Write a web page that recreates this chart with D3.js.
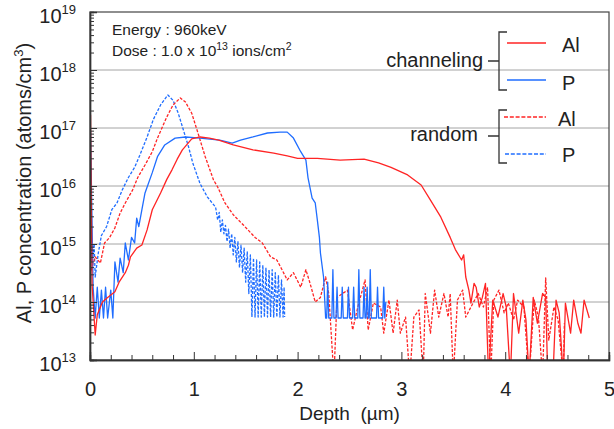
<!DOCTYPE html>
<html>
<head>
<meta charset="utf-8">
<script src="https://cdn.jsdelivr.net/npm/d3@7.9.0/dist/d3.min.js"></script>
<style>
  body { margin: 0; background: #fff; }
  svg { display: block; font-family: "Liberation Sans", Arial, sans-serif; }
</style>
</head>
<body>
<svg id="chart" width="614" height="429"></svg>
<script>
// Depth (um) vs concentration (atoms/cm3)
// values below 1e13 are dropouts that fall off the bottom of the axis
const alChanneling = [
  [0.005, 1.7e17], [0.02, 2.0e14], [0.05, 2.7e13], [0.07, 6.0e13], [0.12, 1.0e14],
  [0.17, 1.2e14], [0.24, 1.5e14], [0.28, 2.2e14], [0.34, 3.2e14], [0.37, 4.3e14],
  [0.39, 6.0e14], [0.45, 8.5e14], [0.50, 9.6e14], [0.55, 1.75e15], [0.60, 3.9e15],
  [0.68, 7.6e15], [0.74, 1.3e16], [0.79, 1.9e16], [0.84, 2.9e16], [0.89, 4.2e16],
  [0.98, 6.5e16], [1.06, 7.0e16], [1.15, 6.7e16], [1.24, 6.2e16], [1.38, 5.1e16],
  [1.57, 4.2e16], [1.77, 3.7e16], [1.90, 3.3e16], [2.00, 3.0e16], [2.19, 3.0e16],
  [2.41, 2.8e16], [2.64, 2.9e16], [2.78, 2.5e16], [2.90, 2.1e16], [3.06, 1.55e16],
  [3.19, 1.04e16], [3.28, 5.7e15], [3.38, 2.9e15], [3.47, 1.3e15], [3.52, 8.0e14],
  [3.58, 5.3e14], [3.60, 6.5e14], [3.62, 2.7e14], [3.65, 1.6e14], [3.67, 9.6e13],
  [3.70, 2.1e14], [3.72, 1.8e14], [3.75, 8.2e13], [3.78, 1.2e14], [3.81, 2.1e14],
  [3.84, 5e12], [3.88, 1.08e14], [3.93, 5.5e13], [3.98, 1.4e14], [4.01, 8.2e13],
  [4.05, 5e12], [4.08, 1.4e14], [4.13, 2.9e13], [4.17, 1.08e14], [4.20, 4.9e13],
  [4.23, 5e12], [4.27, 1.2e14], [4.31, 4.3e13], [4.36, 1.4e14], [4.39, 1.2e14],
  [4.41, 5e12], [4.46, 5e12], [4.49, 1.08e14], [4.52, 6.5e13], [4.56, 5e12],
  [4.58, 9.6e13], [4.63, 2.9e13], [4.66, 1.08e14], [4.70, 4.3e13], [4.73, 2.9e13],
  [4.76, 1.08e14], [4.81, 5.3e13]
];

const pChanneling = [
  [0.005, 9.0e16], [0.03, 1.8e14], [0.05, 5.3e13], [0.07, 1.8e14], [0.09, 5.3e13],
  [0.11, 1.6e14], [0.13, 5.3e13], [0.15, 1.8e14], [0.17, 5.3e13], [0.20, 1.6e14],
  [0.22, 5.3e13], [0.24, 4.9e14], [0.27, 2.2e14], [0.29, 5.7e14], [0.32, 3.2e14],
  [0.34, 1.04e15], [0.37, 5.3e14], [0.40, 1.3e15], [0.43, 1.04e15], [0.45, 2.8e15],
  [0.47, 2.0e15], [0.50, 3.9e15], [0.53, 7.6e15], [0.60, 1.7e16], [0.65, 3.2e16],
  [0.72, 5.1e16], [0.82, 6.7e16], [0.92, 7.0e16], [1.06, 6.7e16], [1.25, 6.2e16],
  [1.37, 5.5e16], [1.45, 6.2e16], [1.57, 7.0e16], [1.71, 8.2e16], [1.83, 8.5e16],
  [1.90, 8.5e16], [1.96, 6.7e16], [2.03, 3.9e16], [2.08, 2.8e16], [2.10, 1.4e16],
  [2.14, 6.2e15], [2.17, 5.1e15], [2.19, 2.6e15], [2.21, 1.3e15], [2.22, 7.0e14],
  [2.25, 2.7e14], [2.27, 5.3e13], [2.28, 5.3e13], [2.29, 2.2e14], [2.30, 5.3e13],
  [2.33, 5.3e13], [2.34, 3.6e14], [2.35, 5.3e13], [2.37, 5.3e13], [2.38, 1.8e14],
  [2.39, 5.3e13], [2.42, 5.3e13], [2.43, 1.8e14], [2.44, 5.3e13], [2.48, 5.3e13],
  [2.49, 1.8e14], [2.50, 5.3e13], [2.53, 5.3e13], [2.54, 1.8e14], [2.55, 5.3e13],
  [2.58, 5.3e13], [2.59, 3.6e14], [2.60, 5.3e13], [2.63, 5.3e13], [2.64, 1.8e14],
  [2.65, 5.3e13], [2.66, 5.3e13], [2.67, 1.8e14], [2.68, 5.3e13], [2.69, 5.3e13],
  [2.70, 3.6e14], [2.71, 5.3e13], [2.76, 5.3e13], [2.77, 1.8e14], [2.78, 5.3e13],
  [2.82, 5.3e13], [2.83, 1.8e14], [2.84, 5.3e13], [2.85, 1.0e14]
];

const alRandom = [
  [0.01, 3.5e14], [0.05, 6.0e14], [0.10, 4.7e14], [0.14, 1.04e15], [0.19, 1.3e15],
  [0.24, 1.9e15], [0.29, 3.4e15], [0.34, 5.1e15], [0.41, 8.5e15], [0.46, 1.4e16],
  [0.53, 2.3e16], [0.60, 3.9e16], [0.65, 6.7e16], [0.74, 1.55e17], [0.80, 2.5e17],
  [0.87, 3.3e17], [0.92, 2.8e17], [0.98, 1.8e17], [1.04, 8.2e16], [1.11, 3.2e16],
  [1.19, 1.27e16], [1.23, 9.6e15], [1.30, 5.1e15], [1.38, 3.2e15], [1.48, 2.1e15],
  [1.59, 1.3e15], [1.66, 1.04e15], [1.74, 6.0e14], [1.80, 5.3e14], [1.85, 3.6e14],
  [1.90, 2.4e14], [1.96, 3.2e14], [2.03, 1.8e14], [2.08, 3.6e14], [2.12, 2.1e14],
  [2.17, 1.0e14], [2.22, 1.2e14], [2.27, 2.7e14], [2.30, 1.4e14], [2.35, 5e12],
  [2.38, 1.2e14], [2.48, 1.6e14], [2.53, 3.3e13], [2.58, 8.2e13], [2.65, 2.4e14],
  [2.68, 3.3e13], [2.73, 9.6e13], [2.80, 8.2e13], [2.83, 2.9e13], [2.88, 1.08e14],
  [2.92, 2.9e13], [2.96, 1.08e14], [2.99, 2.9e13], [3.04, 5.5e13], [3.08, 5e12],
  [3.12, 5.5e13], [3.17, 7.3e13], [3.21, 5e12], [3.23, 1.4e14], [3.28, 2.9e13],
  [3.32, 1.6e14], [3.36, 5.5e13], [3.41, 1.4e14], [3.45, 5.5e13], [3.47, 1.4e14],
  [3.50, 5e12], [3.54, 1.08e14], [3.59, 1.6e14], [3.62, 5.5e13], [3.67, 8.2e13],
  [3.74, 1.4e14], [3.79, 8.2e13], [3.83, 1.8e14], [3.86, 5e12], [3.89, 1.08e14],
  [3.94, 1.6e14], [3.99, 6.5e13], [4.03, 9.6e13], [4.08, 4.9e13], [4.12, 1.08e14],
  [4.18, 8.2e13], [4.23, 5e12], [4.28, 1.08e14], [4.32, 5.5e13], [4.36, 5e12],
  [4.39, 2.6e14], [4.42, 2.2e13], [4.47, 8.2e13], [4.51, 4.9e13], [4.56, 5e12],
  [4.57, 4.3e13]
];

const pRandom = [
  [0.005, 1.2e15], [0.02, 4.9e14], [0.04, 1.0e15], [0.05, 2.7e14], [0.08, 7.0e14],
  [0.11, 1.4e15], [0.16, 2.0e15], [0.21, 3.9e15], [0.26, 5.1e15], [0.31, 8.5e15],
  [0.37, 1.4e16], [0.43, 2.1e16], [0.48, 3.4e16], [0.55, 7.0e16], [0.61, 1.4e17],
  [0.68, 2.5e17], [0.75, 3.7e17], [0.80, 3.0e17], [0.85, 1.8e17], [0.90, 9.2e16],
  [0.95, 4.7e16], [0.99, 2.5e16], [1.06, 1.1e16], [1.13, 6.5e15], [1.21, 4.3e15],
  [1.23, 2.6e15], [1.245, 3.5e15], [1.26, 1.6e15], [1.275, 2.6e15], [1.29, 1.5e15],
  [1.305, 2.1e15], [1.32, 1.1e15], [1.335, 1.8e15], [1.35, 8.5e14], [1.365, 1.5e15],
  [1.38, 6.5e14], [1.395, 1.3e15], [1.41, 4.9e14], [1.425, 1.1e15], [1.44, 3.9e14],
  [1.455, 9.6e14], [1.47, 3.2e14], [1.485, 8.5e14], [1.50, 2.2e14], [1.515, 7.3e14],
  [1.53, 1.4e14], [1.545, 6.5e14], [1.56, 5.5e13], [1.575, 5.7e14], [1.59, 5.5e13],
  [1.605, 5.3e14], [1.62, 5.5e13], [1.635, 4.9e14], [1.65, 5.5e13], [1.665, 4.3e14],
  [1.68, 5.5e13], [1.695, 3.9e14], [1.71, 5.5e13], [1.725, 3.6e14], [1.74, 5.5e13],
  [1.755, 3.6e14], [1.77, 5.5e13], [1.785, 3.2e14], [1.80, 5.5e13], [1.815, 2.9e14],
  [1.83, 5.5e13], [1.845, 2.4e14], [1.86, 5.5e13], [1.87, 1.8e14], [1.875, 5.5e13]
];

const xTicks = [0, 1, 2, 3, 4, 5];
const yExponents = [13, 14, 15, 16, 17, 18, 19];
const gridExponents = [14, 15, 16, 17, 18];

const RED = "#ff2424";
const BLUE = "#1f6dff";

const svg = d3.select("#chart");
const margin = { top: 12, right: 5, bottom: 69, left: 90 };
const W = 614 - margin.left - margin.right;
const H = 429 - margin.top - margin.bottom;

const x = d3.scaleLinear().domain([0, 5]).range([margin.left, margin.left + W]);
const y = d3.scaleLog().domain([1e13, 1e19]).range([margin.top + H, margin.top]);

// clip region so dropouts stop at the axis
svg.append("clipPath").attr("id", "plot-clip")
  .append("rect")
  .attr("x", margin.left).attr("y", margin.top)
  .attr("width", W).attr("height", H);

// gridlines at each decade
svg.append("g")
  .selectAll("line")
  .data(gridExponents)
  .join("line")
  .attr("x1", margin.left).attr("x2", margin.left + W)
  .attr("y1", (d) => y(Math.pow(10, d))).attr("y2", (d) => y(Math.pow(10, d)))
  .attr("stroke", "#a4a4a4").attr("stroke-width", 1);

// data lines
const line = d3.line().x((d) => x(d[0])).y((d) => y(d[1]));
const series = [
  { data: pRandom, color: BLUE, dash: "3,1.6" },
  { data: alRandom, color: RED, dash: "3,1.6" },
  { data: pChanneling, color: BLUE, dash: null },
  { data: alChanneling, color: RED, dash: null },
];
const linesG = svg.append("g").attr("clip-path", "url(#plot-clip)");
series.forEach((s) => {
  linesG.append("path")
    .datum(s.data)
    .attr("d", line)
    .attr("fill", "none")
    .attr("stroke", s.color)
    .attr("stroke-width", 1.3)
    .attr("stroke-linejoin", "round")
    .attr("stroke-dasharray", s.dash);
});

// frame
svg.append("rect")
  .attr("x", margin.left).attr("y", margin.top)
  .attr("width", W).attr("height", H)
  .attr("fill", "none").attr("stroke", "#444").attr("stroke-width", 1.2);

// y axis: inward major + minor ticks
const minorY = [];
for (let e = 13; e < 19; e++) {
  for (let m = 2; m <= 9; m++) minorY.push(m * Math.pow(10, e));
}
const yAxisG = svg.append("g").attr("transform", `translate(${margin.left},0)`);
yAxisG.call(d3.axisLeft(y).tickValues(yExponents.map((e) => Math.pow(10, e))).tickSize(-7).tickFormat(""));
yAxisG.call((g) => g.append("g").call(d3.axisLeft(y).tickValues(minorY).tickSize(-4).tickFormat("")));
yAxisG.selectAll(".domain").attr("stroke", "#333").attr("stroke-width", 1.4);
yAxisG.selectAll(".tick line").attr("stroke", "#333");

// y tick labels as 10 with superscript
svg.append("g")
  .selectAll("text")
  .data(yExponents)
  .join("text")
  .attr("x", 76)
  .attr("y", (d) => y(Math.pow(10, d)) + 11)
  .attr("text-anchor", "end")
  .attr("font-size", 20)
  .attr("fill", "#222")
  .each(function (d) {
    const t = d3.select(this);
    t.append("tspan").text("10");
    t.append("tspan").attr("font-size", 13).attr("dy", -9).text(d);
  });

// x axis: inward major + minor ticks
const minorX = d3.range(0, 5.001, 0.2).map((v) => +v.toFixed(1)).filter((v) => v % 1 !== 0);
const xAxisG = svg.append("g").attr("transform", `translate(0,${margin.top + H})`);
xAxisG.call(d3.axisBottom(x).tickValues(xTicks).tickSize(-8).tickPadding(22).tickFormat(d3.format("d")));
xAxisG.call((g) => g.append("g").call(d3.axisBottom(x).tickValues(minorX).tickSize(-5).tickFormat("")));
xAxisG.selectAll(".domain").attr("stroke", "#333").attr("stroke-width", 1.4);
xAxisG.selectAll(".tick line").attr("stroke", "#333");
xAxisG.selectAll(".tick text")
  .attr("font-size", 20)
  .attr("font-family", "Liberation Sans, Arial, sans-serif")
  .attr("fill", "#222");

// axis titles
svg.append("text")
  .attr("x", margin.left + W / 2)
  .attr("y", 420)
  .attr("text-anchor", "middle")
  .attr("font-size", 19)
  .attr("fill", "#222")
  .attr("xml:space", "preserve")
  .text("Depth  (\u00b5m)");

const yTitle = svg.append("text")
  .attr("transform", "translate(31,183) rotate(-90)")
  .attr("text-anchor", "middle")
  .attr("font-size", 20)
  .attr("fill", "#222");
yTitle.append("tspan").text("Al, P concentration (atoms/cm");
yTitle.append("tspan").attr("font-size", 13).attr("dy", -8).text("3");
yTitle.append("tspan").attr("dy", 8).text(")");

// annotation
svg.append("text")
  .attr("x", 112).attr("y", 35)
  .attr("font-size", 15.5).attr("fill", "#222")
  .text("Energy : 960keV");
const dose = svg.append("text")
  .attr("x", 112).attr("y", 56)
  .attr("font-size", 15.5).attr("fill", "#222");
dose.append("tspan").text("Dose : 1.0 x 10");
dose.append("tspan").attr("font-size", 10.5).attr("dy", -6).text("13");
dose.append("tspan").attr("dy", 6).text(" ions/cm");
dose.append("tspan").attr("font-size", 10.5).attr("dy", -6).text("2");

// legend
const legendGroups = [
  { label: "channeling", labelX: 483, labelY: 67, top: 32, bottom: 90, mid: 61,
    items: [
      { name: "Al", color: RED, dash: null, y: 43, x1: 507, tx: 562, ty: 52 },
      { name: "P", color: BLUE, dash: null, y: 80, x1: 507, tx: 562, ty: 90 },
    ] },
  { label: "random", labelX: 478, labelY: 141, top: 110, bottom: 163, mid: 136,
    items: [
      { name: "Al", color: RED, dash: "4,1.8", y: 117, x1: 504, tx: 558, ty: 126 },
      { name: "P", color: BLUE, dash: "4,1.8", y: 154, x1: 505, tx: 562, ty: 162 },
    ] },
];
const legend = svg.append("g");
legendGroups.forEach((g) => {
  legend.append("text")
    .attr("x", g.labelX).attr("y", g.labelY)
    .attr("text-anchor", "end")
    .attr("font-size", 20).attr("fill", "#222")
    .text(g.label);
  legend.append("path")
    .attr("d", `M507,${g.top} H499 V${g.bottom} H507 M488,${g.mid} H499`)
    .attr("fill", "none").attr("stroke", "#333").attr("stroke-width", 1.3);
  g.items.forEach((it) => {
    legend.append("line")
      .attr("x1", it.x1).attr("x2", 546)
      .attr("y1", it.y).attr("y2", it.y)
      .attr("stroke", it.color).attr("stroke-width", 1.5)
      .attr("stroke-dasharray", it.dash);
    legend.append("text")
      .attr("x", it.tx).attr("y", it.ty)
      .attr("font-size", 20).attr("fill", "#222")
      .text(it.name);
  });
});
</script>
</body>
</html>
